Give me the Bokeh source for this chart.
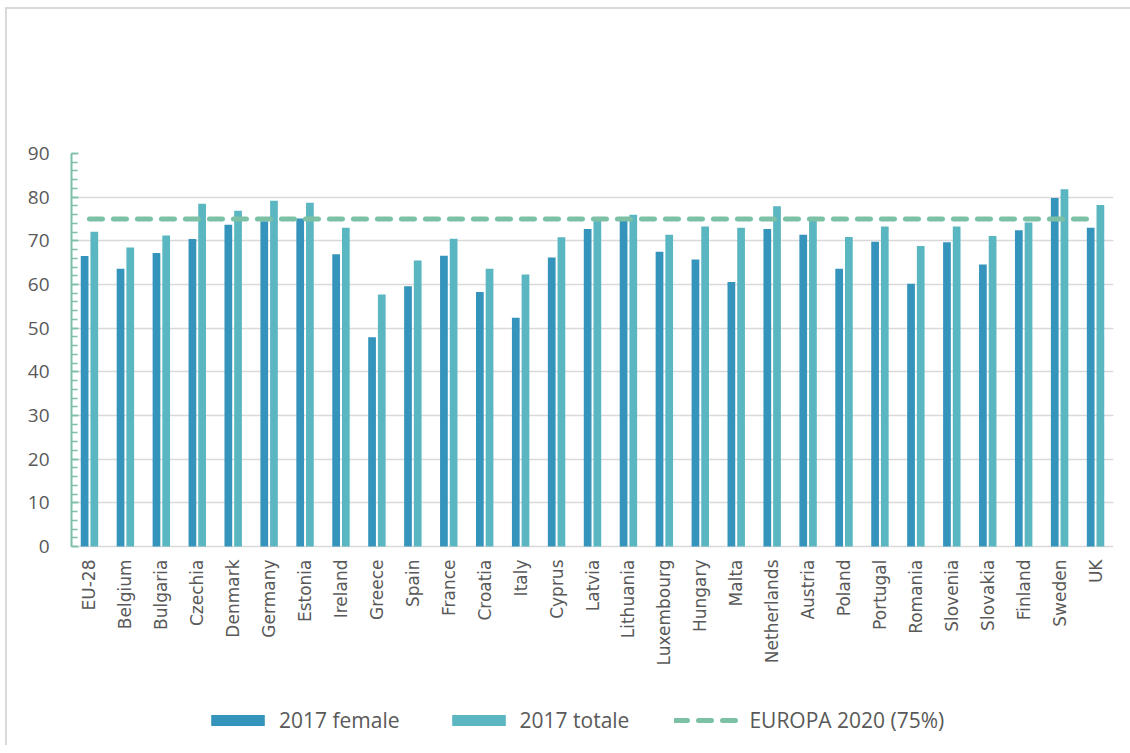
import math
from bokeh.plotting import figure
from bokeh.models import (ColumnDataSource, FactorRange, Range1d, FixedTicker,
                          Legend, LegendItem)
from bokeh.core.properties import value
from bokeh.transform import dodge
from bokeh.embed import file_html
from bokeh.resources import INLINE

countries = ["EU-28", "Belgium", "Bulgaria", "Czechia", "Denmark", "Germany", "Estonia",
             "Ireland", "Greece", "Spain", "France", "Croatia", "Italy", "Cyprus", "Latvia",
             "Lithuania", "Luxembourg", "Hungary", "Malta", "Netherlands", "Austria", "Poland",
             "Portugal", "Romania", "Slovenia", "Slovakia", "Finland", "Sweden", "UK"]

female_2017 = [66.5, 63.6, 67.2, 70.4, 73.7, 74.5, 75.1, 66.9, 47.9, 59.6, 66.6, 58.3, 52.4,
               66.2, 72.7, 74.7, 67.5, 65.7, 60.6, 72.7, 71.4, 63.6, 69.8, 60.2, 69.7, 64.6,
               72.4, 79.8, 73.0]
total_2017 = [72.1, 68.5, 71.2, 78.5, 76.9, 79.2, 78.7, 73.0, 57.7, 65.5, 70.5, 63.6, 62.3,
              70.8, 74.8, 76.0, 71.4, 73.3, 73.0, 77.9, 75.2, 70.9, 73.3, 68.8, 73.3, 71.1,
              74.2, 81.8, 78.2]
target_2020 = [75] * len(countries)
y_ticks = [0, 10, 20, 30, 40, 50, 60, 70, 80, 90]
y_minor_step = 2

label_female = "2017 female"
label_total = "2017 totale"
label_target = "EUROPA 2020 (75%)"

src = ColumnDataSource(dict(country=countries, female=female_2017,
                            total=total_2017, target=target_2020,
                            base=[y_ticks[0]] * len(countries)))

# frame: value axis occupies the upper 393 px; the frame continues below the
# zero line to host the category labels and the legend.
axis_px = 393
below_px = 199
y_top = y_ticks[-1]
y_bottom = y_ticks[0] - (y_top - y_ticks[0]) * below_px / axis_px

p = figure(x_range=FactorRange(factors=countries, range_padding=0),
           y_range=Range1d(y_bottom, y_top),
           frame_width=1042, frame_height=axis_px + below_px,
           output_backend="svg", toolbar_location=None,
           min_border_left=64, min_border_right=17, min_border_top=144, min_border_bottom=0)
p.styles = {"margin-left": "5px", "margin-top": "7px",
            "border-left": "2px solid #d9d9d9", "border-top": "2px solid #d9d9d9"}

r_f = p.vbar(x=dodge("country", -0.135, range=p.x_range), top="female", bottom="base",
             width=0.215, source=src, fill_color="#3594bc", line_color=None)
r_t = p.vbar(x=dodge("country", 0.135, range=p.x_range), top="total", bottom="base",
             width=0.215, source=src, fill_color="#5ab6c0", line_color=None)
r_l = p.line(x="country", y="target", source=src, line_color="#7cc0a6", line_width=5,
             line_dash="13 11", line_cap="round")

# category labels (vertical, reading upward) just below the zero line
p.text(x="country", y="base", text="country", source=src, angle=math.pi / 2,
       text_align="right", text_baseline="middle", y_offset=13,
       text_font=value("DejaVu Sans"), text_font_size="17px", text_color="#595959")

p.outline_line_color = None
p.background_fill_color = "white"
p.border_fill_color = "white"

p.xaxis.visible = False
p.xgrid.grid_line_color = None
p.ygrid.grid_line_color = "#d9d9d9"
p.ygrid.grid_line_width = 1.5

yax = p.yaxis[0]
yax.ticker = FixedTicker(ticks=y_ticks,
                         minor_ticks=list(range(y_ticks[0], y_ticks[-1] + 1, y_minor_step)))
yax.bounds = (y_ticks[0], y_ticks[-1])
yax.axis_line_color = "#7cc0a6"
yax.axis_line_width = 2
yax.major_tick_in = 7
yax.major_tick_out = 0
yax.minor_tick_in = 6
yax.minor_tick_out = 0
yax.major_tick_line_color = "#7cc0a6"
yax.minor_tick_line_color = "#7cc0a6"
yax.major_tick_line_width = 1.5
yax.minor_tick_line_width = 1.5
yax.major_label_standoff = 22
yax.major_label_text_font = "Open Sans"
yax.major_label_text_font_size = "19px"
yax.major_label_text_color = "#595959"

legend = Legend(items=[LegendItem(label=label_female, renderers=[r_f]),
                       LegendItem(label=label_total, renderers=[r_t]),
                       LegendItem(label=label_target, renderers=[r_l])],
                orientation="horizontal", location=(133, 11))
legend.glyph_width = 67
legend.glyph_height = 14
legend.label_standoff = 8
legend.spacing = 45
legend.label_text_font = "Open Sans"
legend.label_text_font_size = "21px"
legend.label_text_color = "#595959"
legend.border_line_color = None
legend.background_fill_alpha = 0
legend.margin = 0
legend.padding = 0
p.add_layout(legend, "center")

open("out.html", "w").write(file_html(p, INLINE))
